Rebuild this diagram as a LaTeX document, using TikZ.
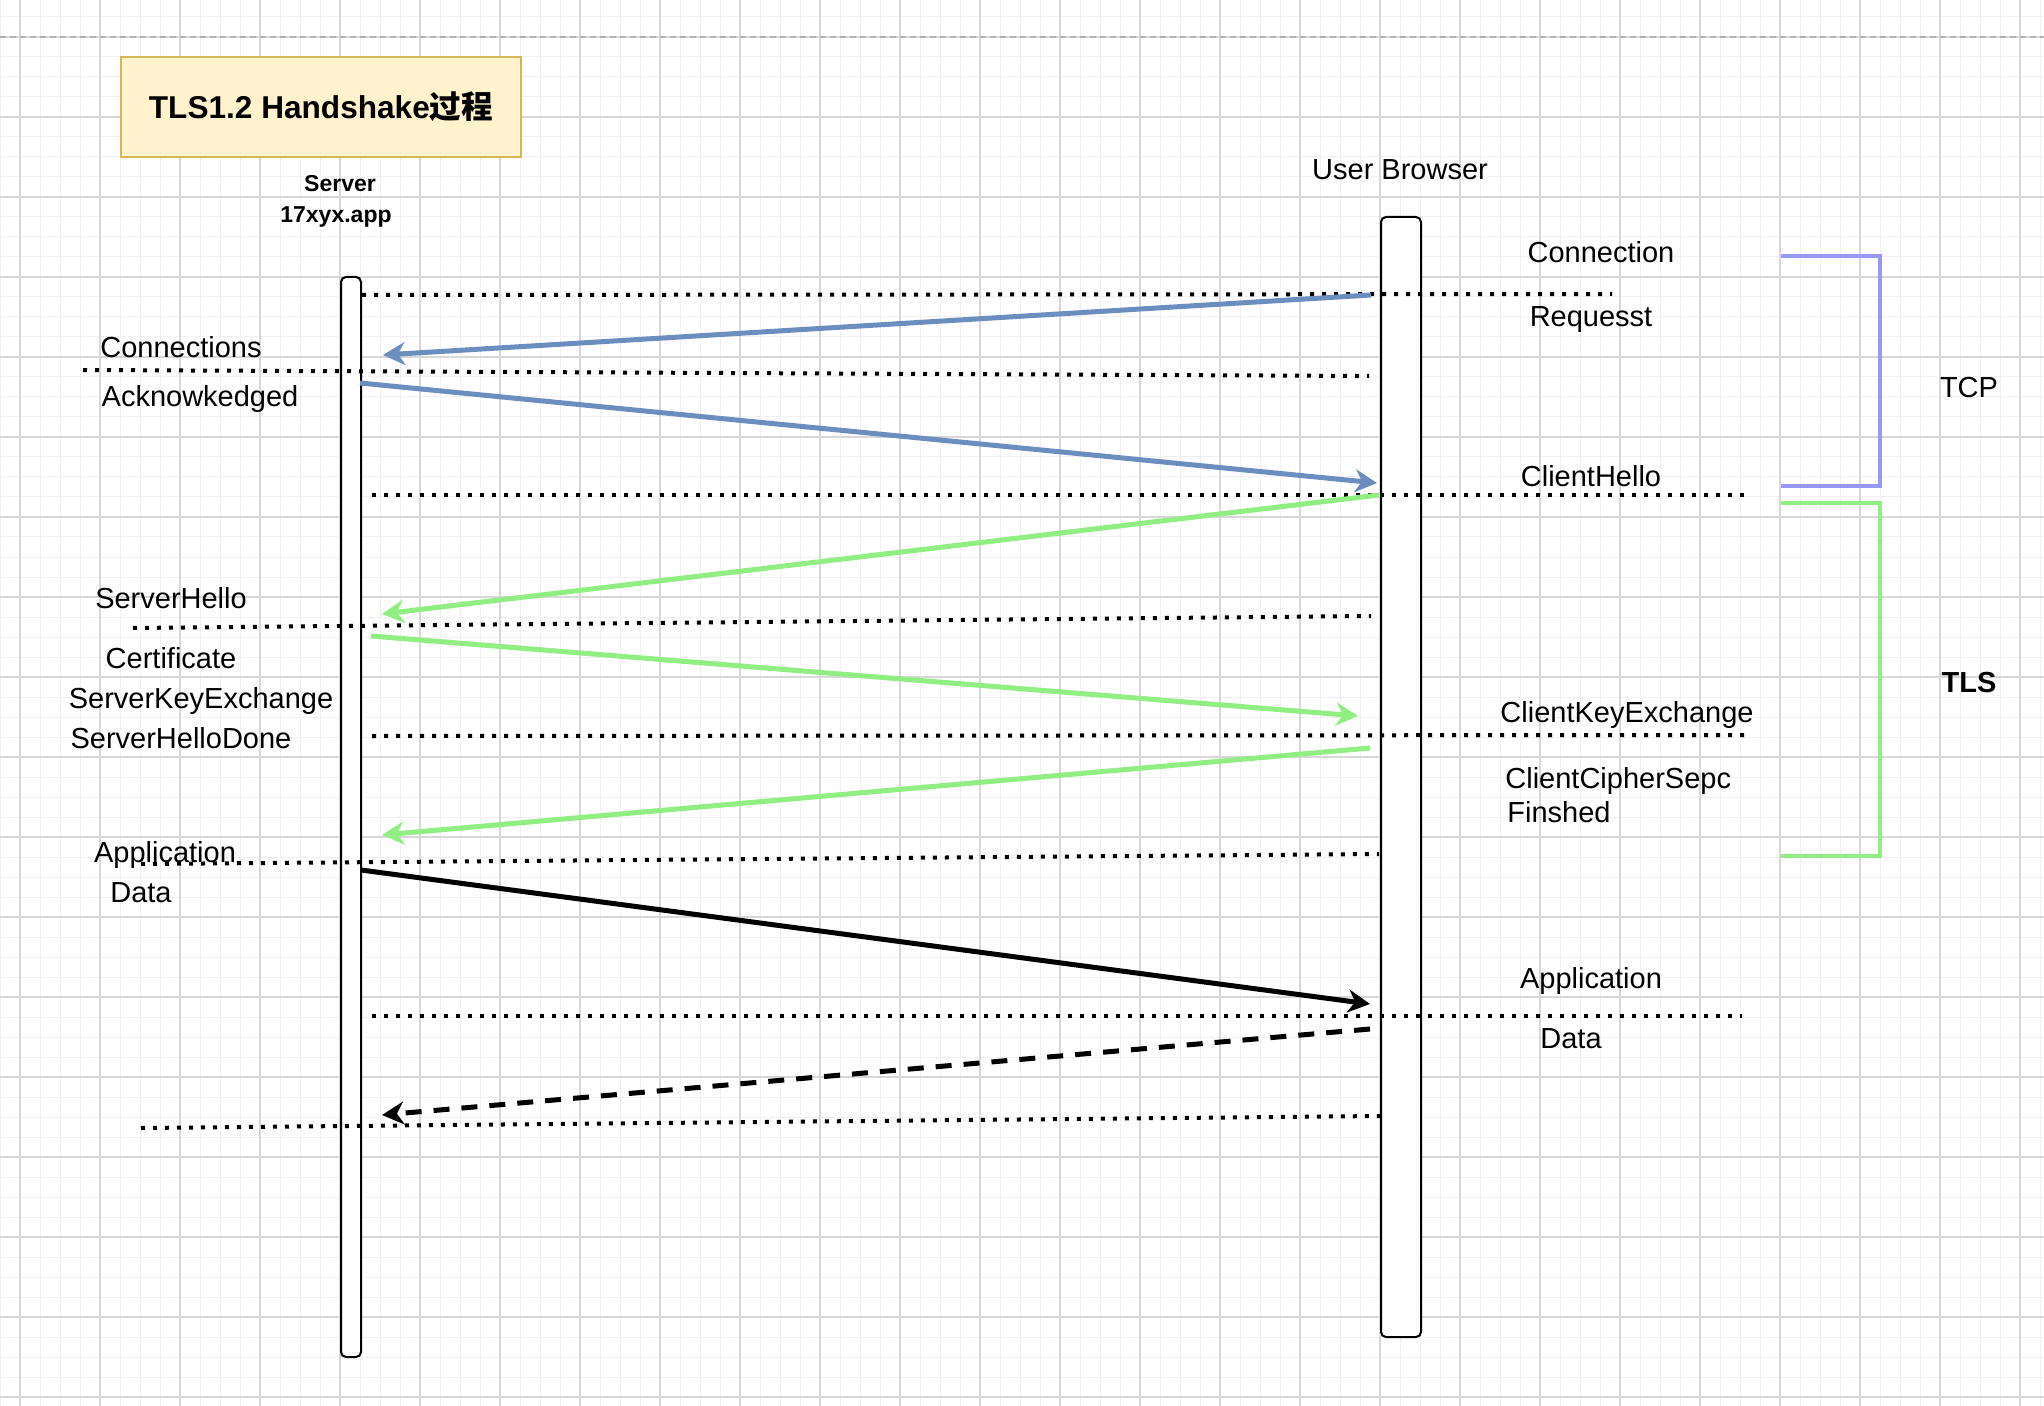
\documentclass[tikz,border=0pt]{standalone}
\usepackage{fontspec}
\setmainfont{Liberation Sans}
\newfontfamily\cjk{Noto Sans CJK SC}
\usetikzlibrary{arrows.meta}
\definecolor{gridminor}{RGB}{241,241,241}
\definecolor{gridmajor}{RGB}{216,216,216}
\definecolor{titlefill}{HTML}{FFF2CC}
\definecolor{titleedge}{HTML}{D6B656}
\definecolor{tcpblue}{HTML}{6C8EBF}
\definecolor{tcpline}{RGB}{153,153,245}
\definecolor{tlsgreen}{RGB}{144,238,130}

\begin{document}
\begin{tikzpicture}[x=0.5pt,y=-0.5pt,>={Stealth[length=11pt,width=11.5pt,inset=3.5pt]},
  lbl/.style={font=\fontsize{14.5}{17.4}\selectfont,inner sep=0pt,anchor=base},
  life/.style={draw,line width=1pt,fill=white,rounded corners=2.5pt,inner sep=0pt},
  sep/.style={line width=2pt,dash pattern=on 2pt off 4pt},
  msg/.style={->,line width=2.5pt},
  bracket/.style={line width=2pt}]
\useasboundingbox (0,0) rectangle (2044,1406);
% grid of the canvas
\fill[white] (0,0) rectangle (2044,1406);
\foreach \gx in {0,20,...,2040} \draw[gridminor,line width=0.5pt] (\gx,0) -- (\gx,1406);
\foreach \gy in {17,37,...,1397} \draw[gridminor,line width=0.5pt] (0,\gy) -- (2044,\gy);
\foreach \gx in {20,100,...,2020} \draw[gridmajor,line width=0.6pt] (\gx,0) -- (\gx,1406);
\foreach \gy in {37,117,...,1397} \draw[gridmajor,line width=0.6pt] (0,\gy) -- (2044,\gy);
\draw[black!30,dash pattern=on 3pt off 2pt,line width=0.6pt] (0,37) -- (2044,37);

\node[draw=titleedge,fill=titlefill,line width=1pt,minimum width=200pt,minimum height=50pt,font=\bfseries\fontsize{15.8}{19}\selectfont] (title) at (321,107) {TLS1.2 Handshake{\cjk 过程}};

% lifelines
\node[lbl,font=\bfseries\fontsize{11.5}{14}\selectfont] (srvname) at (340,192) {Server};
\node[lbl,font=\bfseries\fontsize{11.5}{14}\selectfont] (srvhost) at (336,223) {17xyx.app};
\node[life,minimum width=10pt,minimum height=540pt] (srv) at (351,817) {};
\node[lbl] (brwname) at (1400,180) {User Browser};
\node[life,minimum width=20pt,minimum height=560pt] (brw) at (1401,777) {};

% separators
\draw[sep] (362,295) -- (1612,294);
\draw[sep] (83,370) -- (1369,376);
\draw[sep] (372,495) -- (1744,495);
\draw[sep] (133,628) -- (1371,616);
\draw[sep] (372,736) -- (1744,735);
\draw[sep] (141,864) -- (1379,854);
\draw[sep] (372,1016) -- (1742,1016);
\draw[sep] (141,1128) -- (1380,1116);

% messages
\coordinate (syn) at (1371,295);
\coordinate (synin) at (383,355);
\coordinate (ack) at (360,383);
\coordinate (ackin) at (1377,483);
\coordinate (ch) at (1379,495);
\coordinate (chin) at (382,614);
\coordinate (sh) at (371,636);
\coordinate (shin) at (1358,716);
\coordinate (ck) at (1370,748);
\coordinate (ckin) at (382,835);
\coordinate (apps) at (361,870);
\coordinate (appsin) at (1370,1004);
\coordinate (appc) at (1370,1029);
\coordinate (appcin) at (382,1115);
\draw[msg,tcpblue] (syn) -- (synin);
\draw[msg,tcpblue] (ack) -- (ackin);
\draw[msg,tlsgreen] (ch) -- (chin);
\draw[msg,tlsgreen] (sh) -- (shin);
\draw[msg,tlsgreen] (ck) -- (ckin);
\draw[msg] (apps) -- (appsin);
\draw[msg,dash pattern=on 8pt off 6pt] (appc) -- (appcin);

% phases
\draw[bracket,tcpline] (1781,256) -- (1880,256) -- (1880,486) -- (1781,486);
\draw[bracket,tlsgreen] (1781,503) -- (1880,503) -- (1880,856) -- (1781,856);
\node[lbl] (tcp) at (1969,398) {TCP};
\node[lbl,font=\bfseries\fontsize{14.5}{17.4}\selectfont] (tls) at (1969,692) {TLS};

% labels
\node[lbl] (connl) at (181,358) {Connections};
\node[lbl] (ackl) at (200,407) {Acknowkedged};
\node[lbl] (shl) at (171,608) {ServerHello};
\node[lbl] (certl) at (171,668) {Certificate};
\node[lbl] (skxl) at (201,708) {ServerKeyExchange};
\node[lbl] (sdonel) at (181,748) {ServerHelloDone};
\node[lbl] (appl) at (165,862) {Application};
\node[lbl] (datal) at (141,902) {Data};
\node[lbl] (connr) at (1601,263) {Connection};
\node[lbl] (reqr) at (1591,327) {Requesst};
\node[lbl] (chr) at (1591,487) {ClientHello};
\node[lbl] (ckxr) at (1627,722) {ClientKeyExchange};
\node[lbl,anchor=base west] (ccsr) at (1505,788) {ClientCipherSepc};
\node[lbl,anchor=base west] (finr) at (1507,822) {Finshed};
\node[lbl] (appr) at (1591,988) {Application};
\node[lbl] (datar) at (1571,1048) {Data};
\end{tikzpicture}
\end{document}
